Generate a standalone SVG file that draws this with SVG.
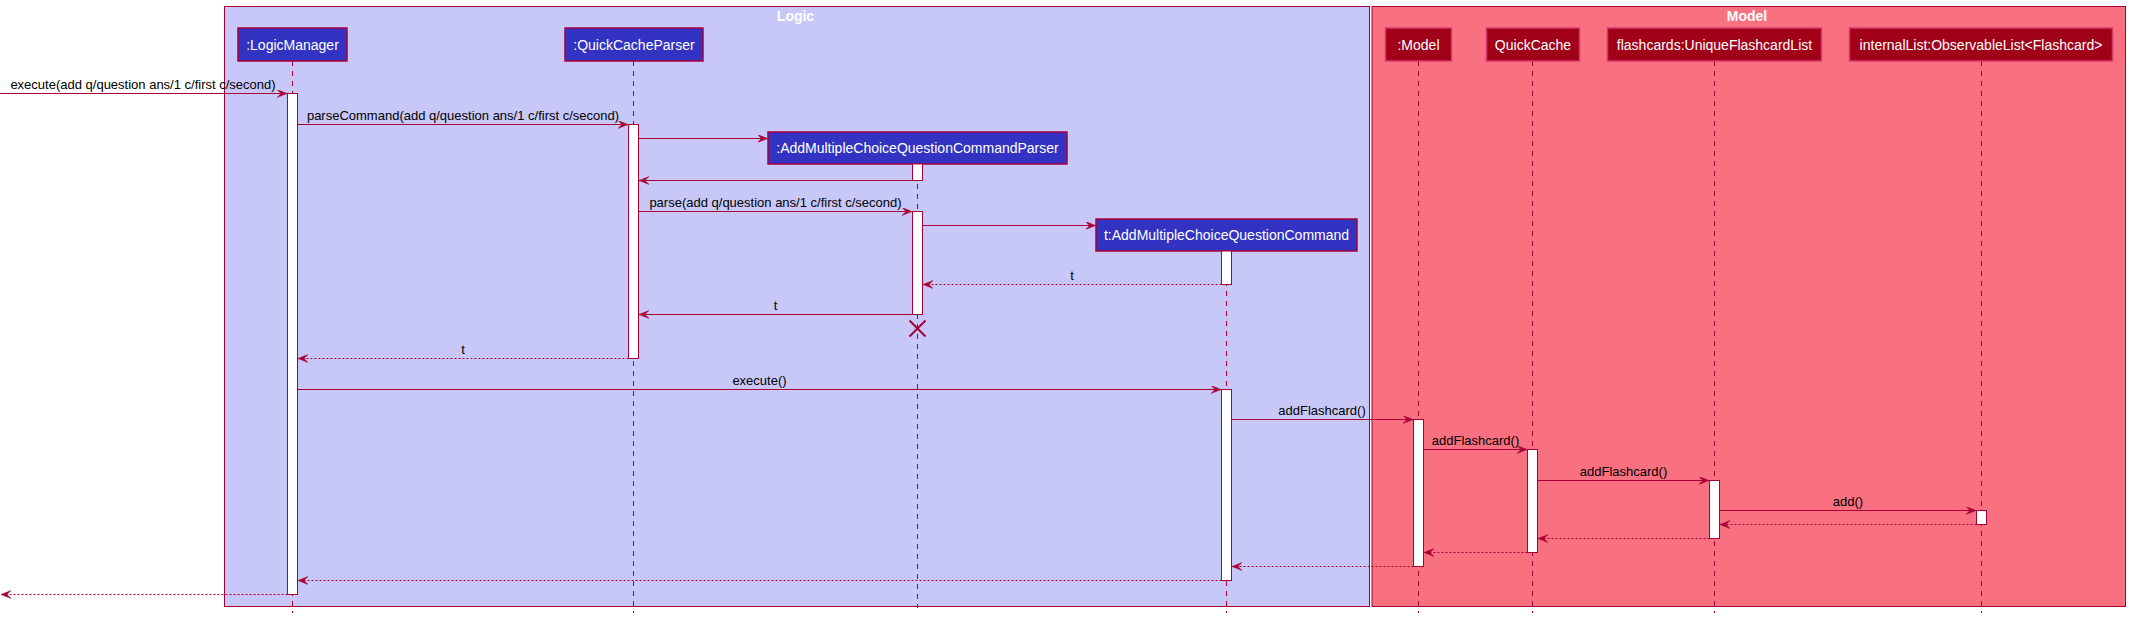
<svg xmlns="http://www.w3.org/2000/svg" width="2130" height="618" viewBox="0 0 2130 618">
<style>
.frame{stroke:#A80036;stroke-width:1}
.title{font-family:"Liberation Sans",Arial,sans-serif;font-size:14px;font-weight:bold;fill:#FFFFFF;text-anchor:middle}
.pl{fill:#3333C3;stroke:#A80036;stroke-width:1.5}
.pm{fill:#A00018;stroke:#D8386C;stroke-width:1.5}
.pt{font-family:"Liberation Sans",Arial,sans-serif;font-size:14px;fill:#FFFFFF;text-anchor:middle}
.life{stroke:#A80036;stroke-width:1;stroke-dasharray:5,5;fill:none}
.act{fill:#FFFFFF;stroke:#A80036;stroke-width:1}
.msg{stroke:#A80036;stroke-width:1;fill:none;marker-end:url(#arr)}
.ret{stroke:#A80036;stroke-width:1;stroke-dasharray:2,2;fill:none;marker-end:url(#arr)}
.lbl{font-family:"Liberation Sans",Arial,sans-serif;font-size:13px;fill:#000000;text-anchor:middle}
.x{stroke:#A80036;stroke-width:2}
</style>
<defs>
<marker id="arr" markerUnits="userSpaceOnUse" markerWidth="12" markerHeight="10" refX="10" refY="4" orient="auto">
<polygon points="10,4 0,0 4,4 0,8" fill="#A80036" stroke="#A80036" stroke-width="0.5"/>
</marker>
</defs>
<rect width="2130" height="618" fill="#FFFFFF"/>
<g id="box-logic">
<rect class="frame" x="224.5" y="6.5" width="1145" height="600" fill="#C8C8F8"/>
<text class="title" x="795.5" y="21">Logic</text>
</g>
<g id="box-model">
<rect class="frame" x="1372" y="6.5" width="753.5" height="600" fill="#F97080"/>
<text class="title" x="1747" y="21">Model</text>
</g>
<g id="lifelines">
<line class="life" x1="292.5" y1="61" x2="292.5" y2="613"/>
<line class="life" x1="633.5" y1="61" x2="633.5" y2="613"/>
<line class="life" x1="917.5" y1="164" x2="917.5" y2="608"/>
<line class="life" x1="1226.5" y1="251" x2="1226.5" y2="613"/>
<line class="life" x1="1418.5" y1="61" x2="1418.5" y2="613"/>
<line class="life" x1="1532.5" y1="61" x2="1532.5" y2="613"/>
<line class="life" x1="1714.5" y1="61" x2="1714.5" y2="613"/>
<line class="life" x1="1981.5" y1="61" x2="1981.5" y2="613"/>
</g>
<g id="LogicManager">
<rect class="pl" x="238" y="28" width="109" height="33"/>
<text class="pt" x="292.5" y="49.5">:LogicManager</text>
<rect class="act" x="287.5" y="93.5" width="10" height="501"/>
</g>
<g id="QuickCacheParser">
<rect class="pl" x="565" y="28" width="138" height="33"/>
<text class="pt" x="634" y="49.5">:QuickCacheParser</text>
<rect class="act" x="628.5" y="124.5" width="10" height="234"/>
</g>
<g id="AddMultipleChoiceQuestionCommandParser">
<rect class="pl" x="768" y="132" width="299" height="32"/>
<text class="pt" x="917.5" y="153">:AddMultipleChoiceQuestionCommandParser</text>
<rect class="act" x="912.5" y="164" width="10" height="16.5"/>
<rect class="act" x="912.5" y="211.5" width="10" height="103"/>
<line class="x" x1="909.5" y1="320.5" x2="925.5" y2="336.5"/>
<line class="x" x1="925.5" y1="320.5" x2="909.5" y2="336.5"/>
</g>
<g id="AddMultipleChoiceQuestionCommand">
<rect class="pl" x="1096" y="219" width="261" height="32"/>
<text class="pt" x="1226.5" y="240">t:AddMultipleChoiceQuestionCommand</text>
<rect class="act" x="1221.5" y="251" width="10" height="33.5"/>
<rect class="act" x="1221.5" y="389.5" width="10" height="191"/>
</g>
<g id="Model">
<rect class="pm" x="1385.5" y="28" width="66" height="33"/>
<text class="pt" x="1418.5" y="49.5">:Model</text>
<rect class="act" x="1413.5" y="419.5" width="10" height="147"/>
</g>
<g id="QuickCache">
<rect class="pm" x="1486.5" y="28" width="93" height="33"/>
<text class="pt" x="1533" y="49.5">QuickCache</text>
<rect class="act" x="1527.5" y="449.5" width="10" height="103"/>
</g>
<g id="flashcards">
<rect class="pm" x="1607.5" y="28" width="214" height="33"/>
<text class="pt" x="1714.5" y="49.5">flashcards:UniqueFlashcardList</text>
<rect class="act" x="1709.5" y="480.5" width="10" height="58"/>
</g>
<g id="internalList">
<rect class="pm" x="1849.5" y="28" width="263" height="33"/>
<text class="pt" x="1981" y="49.5">internalList:ObservableList&lt;Flashcard&gt;</text>
<rect class="act" x="1976.5" y="510.5" width="10" height="14"/>
</g>
<g id="connectors">
<line class="msg" x1="0" y1="93.5" x2="287" y2="93.5"/>
<text class="lbl" x="143" y="89">execute(add q/question ans/1 c/first c/second)</text>
<line class="msg" x1="297.5" y1="124.5" x2="628" y2="124.5"/>
<text class="lbl" x="463" y="119.5">parseCommand(add q/question ans/1 c/first c/second)</text>
<line class="msg" x1="638.5" y1="138.5" x2="767.5" y2="138.5"/>
<line class="msg" x1="912.5" y1="180.5" x2="639" y2="180.5"/>
<line class="msg" x1="638.5" y1="211.5" x2="912" y2="211.5"/>
<text class="lbl" x="775.5" y="206.5">parse(add q/question ans/1 c/first c/second)</text>
<line class="msg" x1="922.5" y1="225.5" x2="1095.5" y2="225.5"/>
<line class="ret" x1="1221.5" y1="284.5" x2="923" y2="284.5"/>
<text class="lbl" x="1072" y="279.5">t</text>
<line class="msg" x1="912.5" y1="314.5" x2="639" y2="314.5"/>
<text class="lbl" x="775.5" y="309.5">t</text>
<line class="ret" x1="628.5" y1="358.5" x2="298" y2="358.5"/>
<text class="lbl" x="463" y="353.5">t</text>
<line class="msg" x1="297.5" y1="389.5" x2="1221" y2="389.5"/>
<text class="lbl" x="759.5" y="384.5">execute()</text>
<line class="msg" x1="1231.5" y1="419.5" x2="1413" y2="419.5"/>
<text class="lbl" x="1322" y="414.5">addFlashcard()</text>
<line class="msg" x1="1423.5" y1="449.5" x2="1527" y2="449.5"/>
<text class="lbl" x="1475.5" y="444.5">addFlashcard()</text>
<line class="msg" x1="1537.5" y1="480.5" x2="1709" y2="480.5"/>
<text class="lbl" x="1623.5" y="475.5">addFlashcard()</text>
<line class="msg" x1="1719.5" y1="510.5" x2="1976" y2="510.5"/>
<text class="lbl" x="1848" y="505.5">add()</text>
<line class="ret" x1="1976.5" y1="524.5" x2="1720" y2="524.5"/>
<line class="ret" x1="1709.5" y1="538.5" x2="1538" y2="538.5"/>
<line class="ret" x1="1527.5" y1="552.5" x2="1424" y2="552.5"/>
<line class="ret" x1="1413.5" y1="566.5" x2="1232" y2="566.5"/>
<line class="ret" x1="1221.5" y1="580.5" x2="298" y2="580.5"/>
<line class="ret" x1="287.5" y1="594.5" x2="1" y2="594.5"/>
</g>
</svg>
